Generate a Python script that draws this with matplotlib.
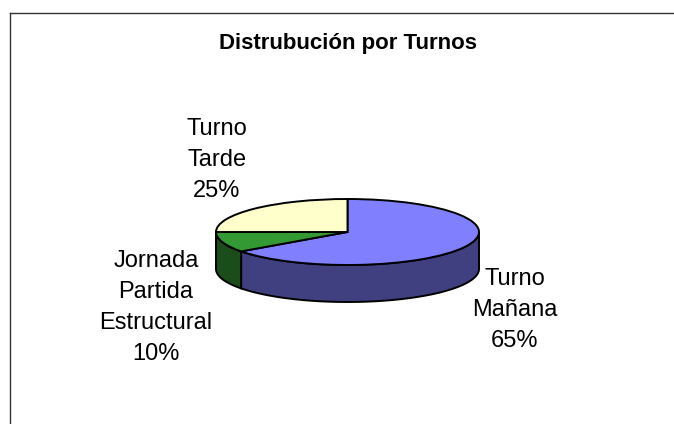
import numpy as np
import matplotlib.pyplot as plt
from matplotlib.lines import Line2D

# data
categories = ['Turno Mañana', 'Jornada Partida Estructural', 'Turno Tarde']
values = [65, 10, 25]
top_colors = ['#8080FF', '#339933', '#FFFFCC']
side_colors = ['#404080', '#1A4D1A', '#808066']
label_text = ['Turno\nMañana', 'Jornada\nPartida\nEstructural', 'Turno\nTarde']

W, H = 674, 424
# pie geometry in pixels (centre, half axes, depth)
cx, cy = 347.5, 232
rx, ry = 131.5, 33
depth = 37 / ry

plt.rcParams['font.family'] = ['Liberation Sans', 'DejaVu Sans']

fig = plt.figure(figsize=(W / 100, H / 100), dpi=100)
ax = fig.add_axes([0, 0, 1, 1])

wedges, _ = ax.pie(values, colors=top_colors, startangle=90, counterclock=False,
                   wedgeprops=dict(edgecolor='black', linewidth=1.4, zorder=3))

# side walls of the front half
for w, col in zip(wedges, side_colors):
    t1, t2 = w.theta1, w.theta2
    for n in (-2, -1, 0):
        lo = max(t1, 180 + 360 * n)
        hi = min(t2, 360 + 360 * n)
        if hi <= lo:
            continue
        t = np.radians(np.linspace(lo, hi, 80))
        xs = np.concatenate([np.cos(t), np.cos(t[::-1])])
        ys = np.concatenate([np.sin(t), np.sin(t[::-1]) - depth])
        ax.fill(xs, ys, facecolor=col, edgecolor='black', linewidth=1.4, zorder=2)

ax.set_aspect('auto')
ax.set_xlim(-cx / rx, (W - cx) / rx)
ax.set_ylim(-(H - cy) / ry, cy / ry)
ax.axis('off')


def px(x, y):
    return x / W, 1 - y / H


fig.text(*px(348, 49), 'Distrubución por Turnos', ha='center', va='baseline',
         fontsize=16, fontweight='bold')

# baseline of the last line of each label
label_pos = [(515, 347), (156, 360), (217, 197)]
for txt, v, (x, y) in zip(label_text, values, label_pos):
    fig.text(*px(x, y), f'{txt}\n{v}%', ha='center', va='baseline',
             fontsize=17, linespacing=1.53)

# chart area border (top and left edges visible)
x0, y0 = px(10, 13)
fig.add_artist(Line2D([x0, 1], [y0, y0], color='#333333', linewidth=1.0))
fig.add_artist(Line2D([x0, x0], [0, y0], color='#333333', linewidth=1.0))

fig.savefig('out.png', dpi=100)
